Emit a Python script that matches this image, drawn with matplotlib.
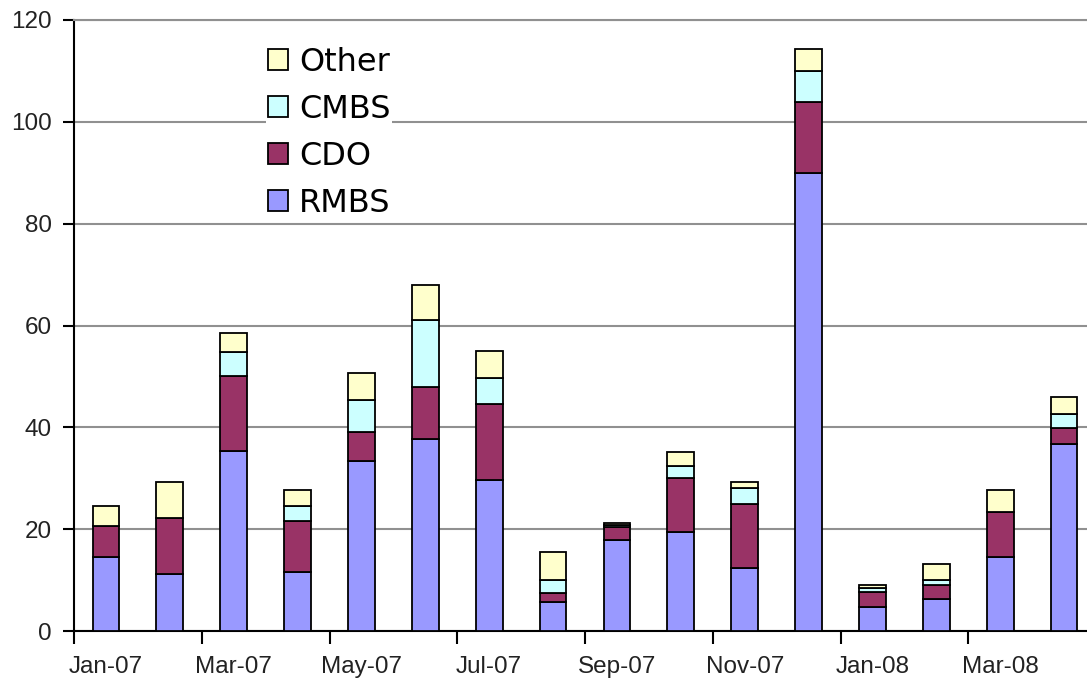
import numpy as np
import matplotlib
matplotlib.use("Agg")
import matplotlib.pyplot as plt
from matplotlib.patches import Patch

# monthly issuance, stacked by asset class
months = ["Jan-07", "Feb-07", "Mar-07", "Apr-07", "May-07", "Jun-07", "Jul-07", "Aug-07",
          "Sep-07", "Oct-07", "Nov-07", "Dec-07", "Jan-08", "Feb-08", "Mar-08", "Apr-08"]
rmbs = [14.6, 11.2, 35.4, 11.5, 33.4, 37.8, 29.7, 5.6, 17.9, 19.4, 12.3, 89.9, 4.8, 6.2, 14.6, 36.8]
cdo = [6.0, 10.9, 14.7, 10.2, 5.7, 10.1, 14.9, 1.8, 2.6, 10.7, 12.6, 14.0, 2.9, 2.8, 8.7, 3.0]
cmbs = [0.0, 0.0, 4.6, 2.8, 6.3, 13.2, 5.1, 2.6, 0.3, 2.3, 3.1, 6.1, 0.7, 1.0, 0.0, 2.9]
other = [3.9, 7.2, 3.8, 3.2, 5.2, 6.8, 5.2, 5.6, 0.5, 2.8, 1.3, 4.4, 0.6, 3.2, 4.4, 3.3]

series = [("RMBS", rmbs, "#9999FF"), ("CDO", cdo, "#993366"),
          ("CMBS", cmbs, "#CCFFFF"), ("Other", other, "#FFFFCC")]

fig = plt.figure(figsize=(10.87, 6.84), dpi=100)
ax = fig.add_axes([74 / 1087, 53 / 684, 1022 / 1087, 611 / 684])

x = np.arange(len(months))
bottom = np.zeros(len(months))
for name, vals, col in series:
    ax.bar(x, vals, width=0.42, bottom=bottom, color=col, edgecolor="black",
           linewidth=1.3, zorder=3)
    bottom += np.array(vals)

ax.set_xlim(-0.5, len(months) - 0.5)
ax.set_ylim(0, 120)
ax.set_yticks(np.arange(0, 121, 20))
ax.yaxis.grid(True, color="#909090", linewidth=1.5, zorder=0)
ax.set_axisbelow(True)

# major ticks between categories, labels on every other month
ax.set_xticks(np.arange(-0.5, len(months), 2))
ax.set_xticklabels([])
ax.set_xticks(x[::2], minor=True)
ax.set_xticklabels(months[::2], minor=True)
ax.tick_params(axis="x", which="major", length=9, width=1.5)
ax.tick_params(axis="x", which="minor", length=0, pad=18, labelsize=17.5, colors="#222222")
ax.tick_params(axis="y", length=8, width=1.5, pad=8, labelsize=17.5, labelcolor="#222222")
for lbl in ax.get_xticklabels(minor=True) + ax.get_yticklabels():
    lbl.set_family("Liberation Sans")

ax.spines["right"].set_visible(False)
ax.spines["top"].set_color("#909090")
ax.spines["top"].set_linewidth(1.5)
ax.spines["left"].set_linewidth(1.5)
ax.spines["bottom"].set_linewidth(1.5)

handles = [Patch(facecolor=col, edgecolor="black", linewidth=1.3, label=name)
           for name, vals, col in series[::-1]]
ax.legend(handles=handles, loc="upper left", bbox_to_anchor=(266 / 1087, 1 - 45 / 684),
          bbox_transform=fig.transFigure, frameon=True, fancybox=False,
          edgecolor="none", facecolor="white", framealpha=1, fontsize=23,
          handlelength=0.63, handleheight=0.63, handletextpad=0.35,
          labelspacing=0.5, borderpad=0.05, borderaxespad=0)

fig.savefig("out.png", dpi=100)
